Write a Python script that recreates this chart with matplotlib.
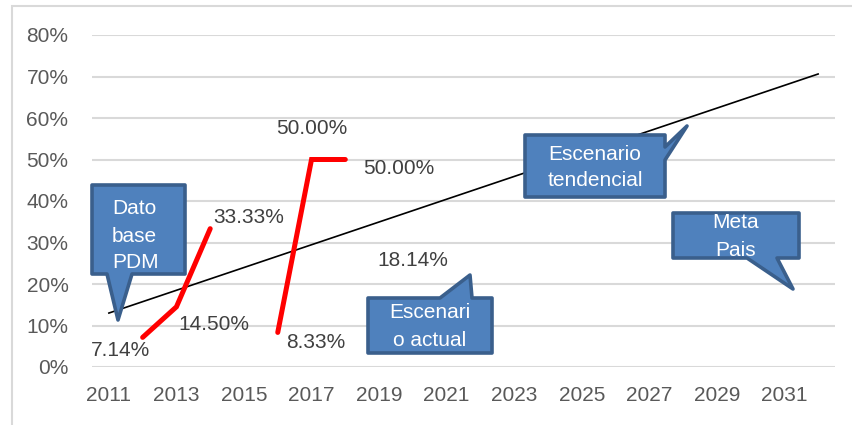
import matplotlib
matplotlib.use('Agg')
import matplotlib.pyplot as plt
from matplotlib.patches import Polygon, Rectangle
from matplotlib.ticker import PercentFormatter

plt.rcParams['font.family'] = ['Liberation Sans', 'DejaVu Sans']

# ------------------------------------------------------------------------------
# data
years = list(range(2011, 2033))
tick_years = list(range(2011, 2033, 2))

actual_a_years = [2012, 2013, 2014]
actual_a_vals = [0.0714, 0.1450, 0.3333]
actual_b_years = [2016, 2017, 2018]
actual_b_vals = [0.0833, 0.5000, 0.5000]

trend_years = [2011, 2032]
trend_vals = [0.130, 0.706]

# label offsets in pixels (dx, dy) for each point of the red series
labels_a = ['7.14%', '14.50%', '33.33%']
offs_a = [(-22, -13), (37, -18), (38, 11)]
labels_b = ['8.33%', '50.00%', '50.00%']
offs_b = [(38, -10), (0, 31), (53, -9)]

BOX_FACE = '#4F81BD'
BOX_EDGE = '#3A5F8C'
TXT = '#404040'

# ------------------------------------------------------------------------------
W, H = 853, 425
fig = plt.figure(figsize=(W / 100, H / 100), dpi=100)
ax = fig.add_axes([92 / W, 1 - 367 / H, 743 / W, 332 / H])

idx = {y: i for i, y in enumerate(years)}

ax.plot([idx[y] for y in trend_years], trend_vals, color='black', lw=1.2, zorder=3)
ax.plot([idx[y] for y in actual_a_years], actual_a_vals, color='#FF0000', lw=3.6,
        solid_capstyle='round', solid_joinstyle='miter', zorder=4)
ax.plot([idx[y] for y in actual_b_years], actual_b_vals, color='#FF0000', lw=3.6,
        solid_capstyle='round', solid_joinstyle='miter', zorder=4)

for yrs, vals, labs, offs in [(actual_a_years, actual_a_vals, labels_a, offs_a),
                              (actual_b_years, actual_b_vals, labels_b, offs_b)]:
    for y, v, t, o in zip(yrs, vals, labs, offs):
        ax.annotate(t, (idx[y], v), xytext=o, textcoords='offset pixels',
                    ha='center', va='center', fontsize=15, color=TXT, zorder=6)

ax.text((413 - 92) / 743, (367 - 260) / 332, '18.14%', transform=ax.transAxes,
        ha='center', va='center', fontsize=15, color=TXT, zorder=6)

ax.set_xlim(-0.5, len(years) - 0.5)
ax.set_ylim(0, 0.8)
ax.set_yticks([i / 10 for i in range(9)])
ax.yaxis.set_major_formatter(PercentFormatter(1.0, decimals=0))
ax.set_xticks([idx[y] for y in tick_years])
ax.set_xticklabels([str(y) for y in tick_years])
ax.tick_params(axis='both', length=0, labelsize=15, labelcolor='#595959')
ax.tick_params(axis='y', pad=17)
ax.tick_params(axis='x', pad=14)
ax.grid(axis='y', color='#D9D9D9', lw=1.5)
ax.set_axisbelow(True)
for s in ax.spines.values():
    s.set_visible(False)


# ------------------------------------------------------------------------------
def px(x, y):
    return ((x - 92) / 743, (367 - y) / 332)


def callout(pts_px, lines, tx, ty, ha='center', spacing=27):
    poly = Polygon([px(x, y) for x, y in pts_px], closed=True, transform=ax.transAxes,
                   facecolor=BOX_FACE, edgecolor=BOX_EDGE, lw=2.6, joinstyle='round',
                   clip_on=False, zorder=7)
    ax.add_patch(poly)
    for i, line in enumerate(lines):
        x, y = px(tx, ty + i * spacing)
        ax.text(x, y, line, transform=ax.transAxes, ha=ha, va='center', color='white',
                fontsize=15, family=['Liberation Sans Narrow', 'Liberation Sans', 'DejaVu Sans'],
                zorder=8, clip_on=False)


# Dato base PDM (tail on bottom)
callout([(92, 185), (185, 185), (185, 274), (132, 274), (118, 320), (107, 274), (92, 274)],
        ['Dato', 'base', 'PDM'], 112, 209, ha='left', spacing=27)
# Escenario actual (tail on top, right side)
callout([(368, 298), (440, 298), (470, 275), (472, 298), (492, 298), (492, 353), (368, 353)],
        ['Escenari', 'o actual'], 430, 313, spacing=27)
# Escenario tendencial (tail on right edge)
callout([(525, 135), (665, 135), (665, 147), (687, 126), (665, 160), (665, 197), (525, 197)],
        ['Escenario', 'tendencial'], 595, 154, spacing=27)
# Meta Pais (tail on bottom, right side)
callout([(673, 213), (799, 213), (799, 258), (777, 258), (793, 289), (747, 258), (673, 258)],
        ['Meta', 'Pais'], 736, 223, spacing=27)

# chart area border
fig.patches.append(Rectangle((12 / W, -0.05), 1.0, 1 - 6 / H + 0.05, transform=fig.transFigure,
                             facecolor='none', edgecolor='#D9D9D9', lw=1.5))

fig.savefig('out.png', dpi=100)
